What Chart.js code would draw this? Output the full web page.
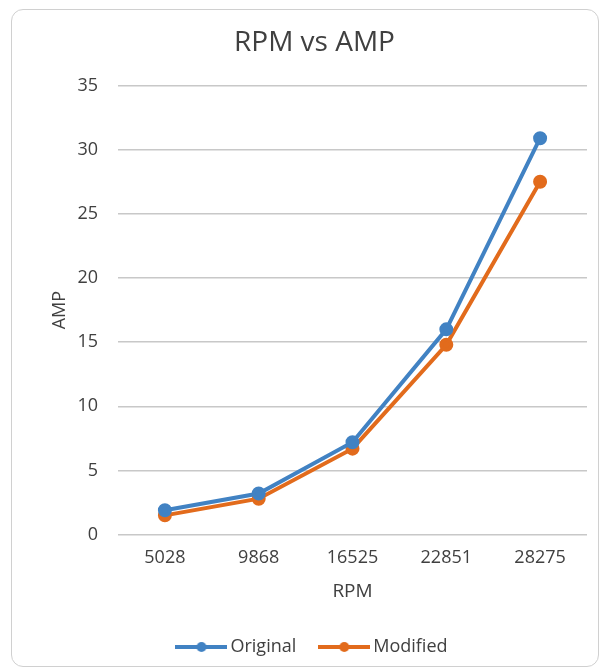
<!DOCTYPE html>
<html>
<head>
<meta charset="utf-8">
<script src="https://cdn.jsdelivr.net/npm/chart.js@4.4.1/dist/chart.umd.min.js"></script>
<style>
    body { margin: 0; background: #fff; }
    #box {
        position: absolute; left: 11px; top: 9px;
        width: 588px; height: 658px;
        border: 1px solid #d0d0d0; border-radius: 12px;
        box-sizing: border-box; overflow: hidden;
    }
</style>
</head>
<body>
<div id="box"><canvas id="rpmChart" width="586" height="656"></canvas></div>
<script>
const rpmLabels = ['5028', '9868', '16525', '22851', '28275'];
const originalAmp = [1.9, 3.2, 7.2, 16.0, 30.9];
const modifiedAmp = [1.5, 2.8, 6.7, 14.8, 27.5];

const blue = '#4182c3';
const orange = '#e26b1c';
const textColor = '#404040';
const font = 'Open Sans';

// little line-with-dot icon for the legend, like Excel's
function legendIcon(color) {
    const c = document.createElement('canvas');
    c.width = 52; c.height = 12;
    const g = c.getContext('2d');
    g.strokeStyle = color;
    g.lineWidth = 4;
    g.beginPath();
    g.moveTo(0, 6);
    g.lineTo(52, 6);
    g.stroke();
    g.fillStyle = color;
    g.beginPath();
    g.arc(26, 6, 5, 0, Math.PI * 2);
    g.fill();
    return c;
}

const rpmChart = document.getElementById('rpmChart');

new Chart(rpmChart, {
    type: 'line',
    data: {
        labels: rpmLabels,
        datasets: [{
                label: 'Original',
                data: originalAmp,
                borderColor: blue,
                backgroundColor: blue,
                borderWidth: 4,
                pointRadius: 5,
                pointHoverRadius: 5
            },
            {
                label: 'Modified',
                data: modifiedAmp,
                borderColor: orange,
                backgroundColor: orange,
                borderWidth: 4,
                pointRadius: 5,
                pointHoverRadius: 5
            }
        ]
    },
    options: {
        responsive: false,
        animation: false,
        layout: {
            padding: { left: 30, right: 11, top: 4, bottom: 0 }
        },
        plugins: {
            title: {
                display: true,
                text: 'RPM vs AMP',
                color: textColor,
                font: { family: font, size: 28, weight: 'normal' },
                padding: { top: 12, bottom: 26 }
            },
            legend: {
                position: 'bottom',
                labels: {
                    usePointStyle: true,
                    pointStyleWidth: 40,
                    color: textColor,
                    font: { family: font, size: 18 },
                    padding: 28,
                    generateLabels: (chart) => {
                        const items = Chart.defaults.plugins.legend.labels.generateLabels(chart);
                        items.forEach((it, i) => {
                            it.pointStyle = legendIcon(chart.data.datasets[i].borderColor);
                        });
                        return items;
                    }
                }
            },
            tooltip: { enabled: false }
        },
        scales: {
            x: {
                offset: true,
                grid: { display: false },
                border: { display: false },
                ticks: {
                    color: textColor,
                    font: { family: font, size: 18 },
                    padding: 4
                },
                title: {
                    display: true,
                    text: 'RPM',
                    color: textColor,
                    font: { family: font, size: 19 },
                    padding: { top: 8, bottom: 7 }
                }
            },
            y: {
                min: 0,
                max: 35,
                afterFit: (scale) => { scale.width = 76; },
                ticks: {
                    stepSize: 5,
                    color: textColor,
                    font: { family: font, size: 18 },
                    padding: 20
                },
                grid: {
                    color: '#c8c8c8',
                    lineWidth: 1.5,
                    drawTicks: false
                },
                border: { display: false },
                title: {
                    display: true,
                    text: 'AMP',
                    color: textColor,
                    font: { family: font, size: 18 },
                    padding: { top: 7, bottom: 0 }
                }
            }
        }
    }
});
</script>
</body>
</html>
